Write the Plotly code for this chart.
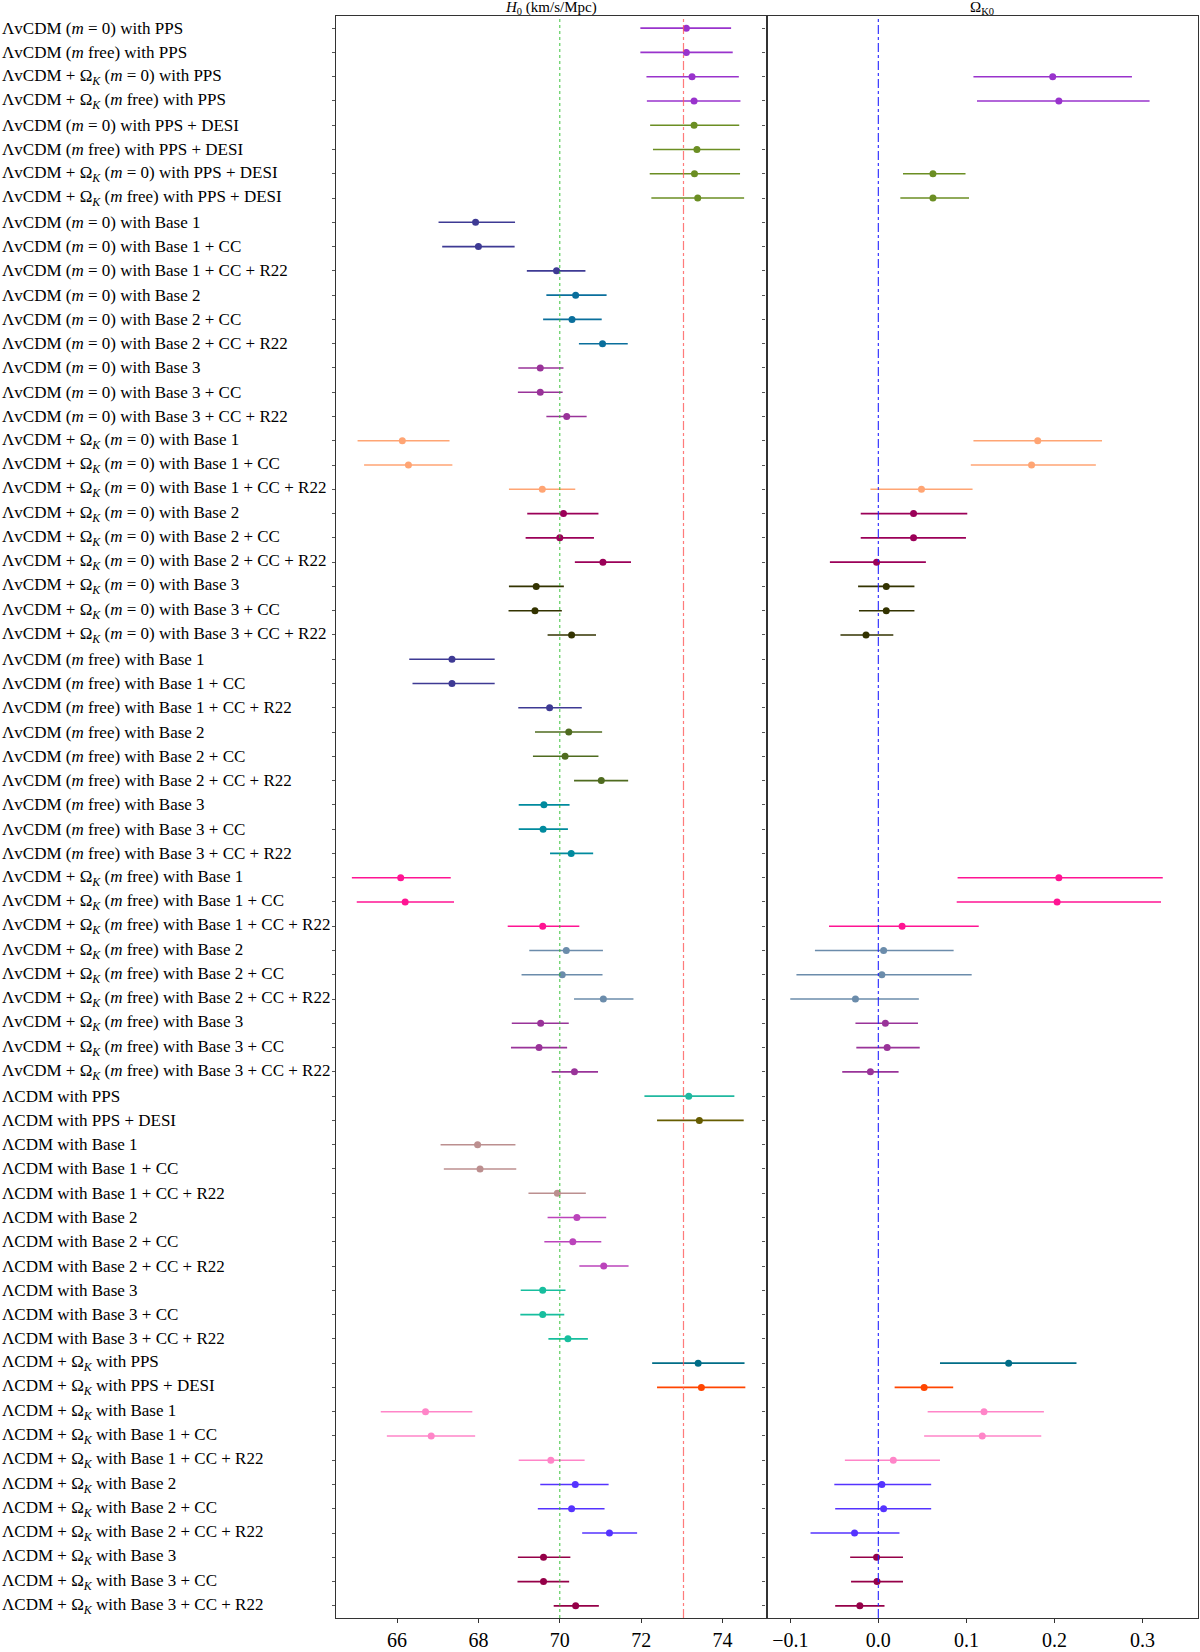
import plotly.graph_objects as go
from plotly.subplots import make_subplots

OK = "Ω<sub><i>K</i></sub>"
M0 = "(<i>m</i> = 0)"
MF = "(<i>m</i> free)"
labels = [
    f"ΛvCDM {M0} with PPS",
    f"ΛvCDM {MF} with PPS",
    f"ΛvCDM + {OK} {M0} with PPS",
    f"ΛvCDM + {OK} {MF} with PPS",
    f"ΛvCDM {M0} with PPS + DESI",
    f"ΛvCDM {MF} with PPS + DESI",
    f"ΛvCDM + {OK} {M0} with PPS + DESI",
    f"ΛvCDM + {OK} {MF} with PPS + DESI",
    f"ΛvCDM {M0} with Base 1",
    f"ΛvCDM {M0} with Base 1 + CC",
    f"ΛvCDM {M0} with Base 1 + CC + R22",
    f"ΛvCDM {M0} with Base 2",
    f"ΛvCDM {M0} with Base 2 + CC",
    f"ΛvCDM {M0} with Base 2 + CC + R22",
    f"ΛvCDM {M0} with Base 3",
    f"ΛvCDM {M0} with Base 3 + CC",
    f"ΛvCDM {M0} with Base 3 + CC + R22",
    f"ΛvCDM + {OK} {M0} with Base 1",
    f"ΛvCDM + {OK} {M0} with Base 1 + CC",
    f"ΛvCDM + {OK} {M0} with Base 1 + CC + R22",
    f"ΛvCDM + {OK} {M0} with Base 2",
    f"ΛvCDM + {OK} {M0} with Base 2 + CC",
    f"ΛvCDM + {OK} {M0} with Base 2 + CC + R22",
    f"ΛvCDM + {OK} {M0} with Base 3",
    f"ΛvCDM + {OK} {M0} with Base 3 + CC",
    f"ΛvCDM + {OK} {M0} with Base 3 + CC + R22",
    f"ΛvCDM {MF} with Base 1",
    f"ΛvCDM {MF} with Base 1 + CC",
    f"ΛvCDM {MF} with Base 1 + CC + R22",
    f"ΛvCDM {MF} with Base 2",
    f"ΛvCDM {MF} with Base 2 + CC",
    f"ΛvCDM {MF} with Base 2 + CC + R22",
    f"ΛvCDM {MF} with Base 3",
    f"ΛvCDM {MF} with Base 3 + CC",
    f"ΛvCDM {MF} with Base 3 + CC + R22",
    f"ΛvCDM + {OK} {MF} with Base 1",
    f"ΛvCDM + {OK} {MF} with Base 1 + CC",
    f"ΛvCDM + {OK} {MF} with Base 1 + CC + R22",
    f"ΛvCDM + {OK} {MF} with Base 2",
    f"ΛvCDM + {OK} {MF} with Base 2 + CC",
    f"ΛvCDM + {OK} {MF} with Base 2 + CC + R22",
    f"ΛvCDM + {OK} {MF} with Base 3",
    f"ΛvCDM + {OK} {MF} with Base 3 + CC",
    f"ΛvCDM + {OK} {MF} with Base 3 + CC + R22",
    "ΛCDM with PPS",
    "ΛCDM with PPS + DESI",
    "ΛCDM with Base 1",
    "ΛCDM with Base 1 + CC",
    "ΛCDM with Base 1 + CC + R22",
    "ΛCDM with Base 2",
    "ΛCDM with Base 2 + CC",
    "ΛCDM with Base 2 + CC + R22",
    "ΛCDM with Base 3",
    "ΛCDM with Base 3 + CC",
    "ΛCDM with Base 3 + CC + R22",
    f"ΛCDM + {OK} with PPS",
    f"ΛCDM + {OK} with PPS + DESI",
    f"ΛCDM + {OK} with Base 1",
    f"ΛCDM + {OK} with Base 1 + CC",
    f"ΛCDM + {OK} with Base 1 + CC + R22",
    f"ΛCDM + {OK} with Base 2",
    f"ΛCDM + {OK} with Base 2 + CC",
    f"ΛCDM + {OK} with Base 2 + CC + R22",
    f"ΛCDM + {OK} with Base 3",
    f"ΛCDM + {OK} with Base 3 + CC",
    f"ΛCDM + {OK} with Base 3 + CC + R22",
]

h0 = [73.11, 73.11, 73.25, 73.30, 73.30, 73.37, 73.31, 73.39,
      67.93, 68.00, 69.92, 70.39, 70.30, 71.05, 69.52, 69.52, 70.17,
      66.13, 66.28, 69.57, 70.09, 70.00, 71.06, 69.42, 69.39, 70.29,
      67.35, 67.35, 69.75, 70.22, 70.13, 71.02, 69.61, 69.59, 70.28,
      66.09, 66.20, 69.58, 70.16, 70.06, 71.07, 69.53, 69.49, 70.36,
      73.17, 73.43,
      67.98, 68.04, 69.94, 70.42, 70.32, 71.08, 69.58, 69.58, 70.20,
      73.40, 73.48,
      66.70, 66.84, 69.78, 70.38, 70.29, 71.22, 69.60, 69.60, 70.39]
h0_lo = [71.98, 71.98, 72.13, 72.14, 72.22, 72.29, 72.21, 72.25,
         67.02, 67.11, 69.19, 69.67, 69.59, 70.47, 68.98, 68.97, 69.67,
         65.03, 65.19, 68.75, 69.20, 69.16, 70.37, 68.75, 68.74, 69.70,
         66.30, 66.38, 68.98, 69.39, 69.34, 70.35, 68.99, 68.99, 69.76,
         64.89, 65.01, 68.72, 69.25, 69.06, 70.35, 68.82, 68.80, 69.80,
         72.08, 72.39,
         67.07, 67.15, 69.23, 69.70, 69.62, 70.48, 69.04, 69.03, 69.72,
         72.27, 72.39,
         65.60, 65.75, 68.99, 69.52, 69.46, 70.55, 68.97, 68.96, 69.85]
h0_hi = [74.21, 74.25, 74.40, 74.44, 74.41, 74.43, 74.43, 74.53,
         68.90, 68.89, 70.63, 71.15, 71.03, 71.67, 70.09, 70.07, 70.66,
         67.29, 67.36, 70.38, 70.95, 70.84, 71.75, 70.10, 70.05, 70.89,
         68.40, 68.40, 70.54, 71.04, 70.95, 71.68, 70.24, 70.20, 70.82,
         67.32, 67.40, 70.48, 71.06, 71.05, 71.81, 70.22, 70.18, 70.94,
         74.29, 74.52,
         68.91, 68.93, 70.64, 71.14, 71.02, 71.69, 70.14, 70.11, 70.69,
         74.54, 74.56,
         67.85, 67.92, 70.61, 71.20, 71.10, 71.90, 70.26, 70.23, 70.96]

N = None
ok = [N, N, 0.198, 0.205, N, N, 0.062, 0.062,
      N, N, N, N, N, N, N, N, N,
      0.181, 0.174, 0.049, 0.040, 0.040, -0.002, 0.009, 0.009, -0.014,
      N, N, N, N, N, N, N, N, N,
      0.205, 0.203, 0.027, 0.006, 0.004, -0.026, 0.008, 0.010, -0.009,
      N, N,
      N, N, N, N, N, N, N, N, N,
      0.148, 0.052,
      0.120, 0.118, 0.017, 0.004, 0.006, -0.027, -0.002, -0.0015, -0.021]
ok_lo = [N, N, 0.108, 0.112, N, N, 0.028, 0.025,
         N, N, N, N, N, N, N, N, N,
         0.108, 0.105, -0.009, -0.020, -0.020, -0.055, -0.023, -0.022, -0.043,
         N, N, N, N, N, N, N, N, N,
         0.090, 0.089, -0.056, -0.072, -0.093, -0.100, -0.026, -0.025, -0.041,
         N, N,
         N, N, N, N, N, N, N, N, N,
         0.070, 0.0185,
         0.056, 0.052, -0.038, -0.050, -0.049, -0.077, -0.032, -0.031, -0.049]
ok_hi = [N, N, 0.288, 0.308, N, N, 0.099, 0.103,
         N, N, N, N, N, N, N, N, N,
         0.254, 0.247, 0.107, 0.101, 0.0995, 0.054, 0.041, 0.041, 0.017,
         N, N, N, N, N, N, N, N, N,
         0.323, 0.321, 0.114, 0.0855, 0.106, 0.046, 0.045, 0.047, 0.023,
         N, N,
         N, N, N, N, N, N, N, N, N,
         0.225, 0.085,
         0.188, 0.185, 0.070, 0.060, 0.060, 0.024, 0.028, 0.028, 0.007]

colors = (["#9933cc"] * 4 + ["#6b8e23"] * 4 +
          ["#3e3a94"] * 3 + ["#0a6f9c"] * 3 + ["#993399"] * 3 +
          ["#ffa574"] * 3 + ["#9b0058"] * 3 + ["#333300"] * 3 +
          ["#3e3a94"] * 3 + ["#4f6b1f"] * 3 + ["#008a9e"] * 3 +
          ["#ff1493"] * 3 + ["#6b8cab"] * 3 + ["#993399"] * 3 +
          ["#20b8a0", "#665c00"] +
          ["#bc8f8f"] * 3 + ["#bb44bb"] * 3 + ["#17be9e"] * 3 +
          ["#006d87", "#ff4500"] +
          ["#ff85c8"] * 3 + ["#5533ff"] * 3 + ["#950048"] * 3)

H0_REF = 70.0
H0_R22 = 73.04
OK_REF = 0.0

W, H = 1200, 1652
ML, MR, MT, MB = 336, 1, 16, 21
plot_w = W - ML - MR

fig = make_subplots(rows=1, cols=2, shared_yaxes=True, horizontal_spacing=0)

ys = list(range(len(labels)))
for i in ys:
    c = colors[i]
    fig.add_trace(go.Scatter(
        x=[h0[i]], y=[i], mode="markers",
        marker=dict(color=c, size=7),
        error_x=dict(type="data", symmetric=False,
                     array=[h0_hi[i] - h0[i]], arrayminus=[h0[i] - h0_lo[i]],
                     color=c, thickness=1.6, width=0),
        showlegend=False), row=1, col=1)
    if ok[i] is not None:
        fig.add_trace(go.Scatter(
            x=[ok[i]], y=[i], mode="markers",
            marker=dict(color=c, size=7),
            error_x=dict(type="data", symmetric=False,
                         array=[ok_hi[i] - ok[i]], arrayminus=[ok[i] - ok_lo[i]],
                         color=c, thickness=1.6, width=0),
            showlegend=False), row=1, col=2)

fig.add_vline(x=H0_REF, line=dict(color="rgba(40,190,40,0.9)", dash="dot", width=1), row=1, col=1)
fig.add_vline(x=H0_R22, line=dict(color="rgba(255,90,90,0.8)", dash="dashdot", width=1.2), row=1, col=1)
fig.add_vline(x=OK_REF, line=dict(color="rgba(30,30,255,0.9)", dash="dashdot", width=1.2), row=1, col=2)

split = 431 / plot_w
axis_common = dict(showline=True, mirror=True, linecolor="#333", linewidth=1.2,
                   showgrid=False, zeroline=False, ticks="outside", ticklen=4,
                   tickcolor="#333", tickfont=dict(family="Liberation Serif", size=20, color="black"))
fig.update_xaxes(**axis_common)
fig.update_xaxes(domain=[0, split], range=[64.5, 75.08],
                 tickvals=[66, 68, 70, 72, 74], row=1, col=1)
fig.update_xaxes(domain=[split, 1], range=[-0.127, 0.363],
                 tickvals=[-0.1, 0.0, 0.1, 0.2, 0.3], tickformat=".1f", row=1, col=2)
fig.update_yaxes(showline=True, mirror=True, linecolor="#333", linewidth=1.2,
                 showgrid=False, zeroline=False, ticks="outside", ticklen=3,
                 tickcolor="#555", range=[len(labels) - 0.5, -0.5],
                 tickvals=ys, showticklabels=False)

for i, lab in enumerate(labels):
    fig.add_annotation(x=-ML / plot_w, xref="paper", y=i, yref="y",
                       text=lab, showarrow=False, xanchor="left", yanchor="middle",
                       font=dict(family="Liberation Serif", size=17, color="black"))

fig.add_annotation(x=split / 2, xref="paper", y=1, yref="paper",
                   xanchor="center", yanchor="bottom",
                   text="<i>H</i><sub>0</sub> (km/s/Mpc)", showarrow=False,
                   font=dict(family="Liberation Serif", size=15, color="black"), yshift=-3)
fig.add_annotation(x=(split + 1) / 2, xref="paper", y=1, yref="paper",
                   xanchor="center", yanchor="bottom",
                   text="Ω<sub>K0</sub>", showarrow=False,
                   font=dict(family="Liberation Serif", size=15, color="black"), yshift=-3)

fig.update_layout(width=W, height=H, margin=dict(l=ML, r=MR, t=MT, b=MB),
                  plot_bgcolor="white", paper_bgcolor="white")
fig.write_html("out.html")
